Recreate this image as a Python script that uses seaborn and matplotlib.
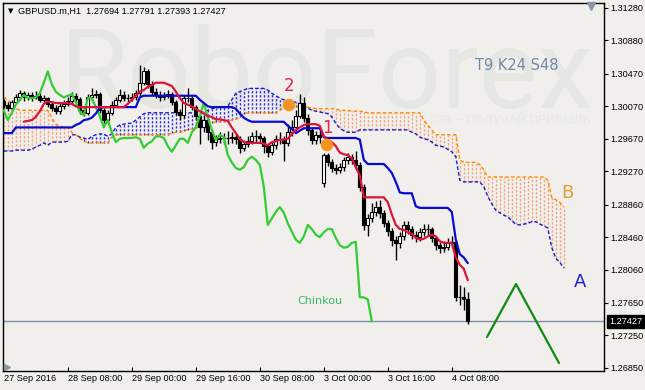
import numpy as np
import pandas as pd
import matplotlib
matplotlib.use("Agg")
import matplotlib.pyplot as plt
import seaborn as sns

# ---------------- data (GBPUSD H1) ----------------
open_ = [1.3013, 1.3009, 1.3005, 1.3012, 1.3018, 1.3023, 1.3018, 1.3021, 1.3018, 1.3020,
         1.3015, 1.3017, 1.3010, 1.3005, 1.3001, 1.3007, 1.3010, 1.3013, 1.3020, 1.3016,
         1.3002, 1.2999, 1.3018, 1.3021, 1.3022, 1.3002, 1.2990, 1.2999, 1.3009, 1.3015,
         1.3021, 1.3017, 1.3017, 1.3018, 1.3023, 1.3036, 1.3050, 1.3034, 1.3025, 1.3021,
         1.3018, 1.3020, 1.3022, 1.3012, 1.3000, 1.2996, 1.3017, 1.3017, 1.3006, 1.2995,
         1.2981, 1.2990, 1.2975, 1.2963, 1.2967, 1.2968, 1.2968, 1.2968, 1.2969, 1.2967,
         1.2956, 1.2961, 1.2964, 1.2970, 1.2970, 1.2968, 1.2958, 1.2951, 1.2959, 1.2967,
         1.2967, 1.2962, 1.2975, 1.2981, 1.2995, 1.3011, 1.2993, 1.2978, 1.2966, 1.2972,
         1.2913, 1.2947, 1.2938, 1.2931, 1.2929, 1.2932, 1.2941, 1.2945, 1.2941, 1.2935,
         1.2908, 1.2861, 1.2869, 1.2877, 1.2883, 1.2876, 1.2863, 1.2853, 1.2843, 1.2839,
         1.2847, 1.2861, 1.2856, 1.2849, 1.2846, 1.2852, 1.2856, 1.2856, 1.2845, 1.2836,
         1.2833, 1.2834, 1.2839, 1.2840, 1.2772, 1.2772, 1.27694]
high = [1.3016, 1.3012, 1.3015, 1.3022, 1.3027, 1.3026, 1.3025, 1.3024, 1.3026, 1.3023,
        1.3021, 1.3019, 1.3013, 1.3008, 1.3011, 1.3015, 1.3018, 1.3024, 1.3023, 1.3018,
        1.3006, 1.3022, 1.3030, 1.3027, 1.3025, 1.3005, 1.3003, 1.3013, 1.3019, 1.3028,
        1.3026, 1.3022, 1.3023, 1.3027, 1.3058, 1.3055, 1.3053, 1.3038, 1.3030, 1.3026,
        1.3025, 1.3027, 1.3025, 1.3015, 1.3004, 1.3021, 1.3030, 1.3020, 1.3009, 1.2998,
        1.2995, 1.2993, 1.2978, 1.2972, 1.2975, 1.2974, 1.2976, 1.2975, 1.2973, 1.2970,
        1.2966, 1.2970, 1.2975, 1.2978, 1.2974, 1.2971, 1.2962, 1.2964, 1.2972, 1.2975,
        1.2970, 1.2985, 1.2990, 1.3003, 1.3022, 1.3018, 1.2997, 1.2981, 1.2977, 1.2976,
        1.2950, 1.2950, 1.2942, 1.2936, 1.2937, 1.2945, 1.2950, 1.2948, 1.2952, 1.2938,
        1.2911, 1.2874, 1.2888, 1.2890, 1.2892, 1.2880, 1.2867, 1.2857, 1.2848, 1.2852,
        1.2866, 1.2866, 1.2860, 1.2854, 1.2857, 1.2862, 1.2862, 1.2858, 1.2848, 1.2840,
        1.2841, 1.2845, 1.2847, 1.2843, 1.2787, 1.2785, 1.27791]
low = [1.3005, 1.3001, 1.3002, 1.3010, 1.3015, 1.3014, 1.3015, 1.3014, 1.3016, 1.3012,
       1.3011, 1.3006, 1.3001, 1.2997, 1.2998, 1.3004, 1.3007, 1.3010, 1.3012, 1.2998,
       1.2995, 1.2996, 1.3014, 1.3017, 1.2999, 1.2986, 1.2987, 1.2996, 1.3006, 1.3012,
       1.3013, 1.3012, 1.3013, 1.3015, 1.3020, 1.3033, 1.3030, 1.3021, 1.3017, 1.3014,
       1.3015, 1.3017, 1.3008, 1.2996, 1.2990, 1.2993, 1.3012, 1.3002, 1.2990, 1.2960,
       1.2975, 1.2966, 1.2955, 1.2958, 1.2962, 1.2960, 1.2961, 1.2962, 1.2960, 1.2950,
       1.2952, 1.2957, 1.2960, 1.2963, 1.2962, 1.2950, 1.2945, 1.2947, 1.2955, 1.2960,
       1.2940, 1.2958, 1.2970, 1.2976, 1.2992, 1.2988, 1.2972, 1.2960, 1.2961, 1.2962,
       1.2908, 1.2933, 1.2926, 1.2924, 1.2925, 1.2928, 1.2936, 1.2936, 1.2930, 1.2903,
       1.2855, 1.2848, 1.2865, 1.2872, 1.2870, 1.2858, 1.2848, 1.2835, 1.2818, 1.2833,
       1.2843, 1.2850, 1.2844, 1.2840, 1.2841, 1.2848, 1.2849, 1.2840, 1.2830, 1.2827,
       1.2828, 1.2830, 1.2834, 1.2768, 1.2763, 1.2756, 1.27393]
close = [1.3009, 1.3005, 1.3012, 1.3018, 1.3023, 1.3018, 1.3021, 1.3018, 1.3020, 1.3015,
         1.3017, 1.3010, 1.3005, 1.3001, 1.3007, 1.3010, 1.3013, 1.3020, 1.3016, 1.3002,
         1.2999, 1.3018, 1.3021, 1.3022, 1.3002, 1.2990, 1.2999, 1.3009, 1.3015, 1.3021,
         1.3017, 1.3017, 1.3018, 1.3023, 1.3036, 1.3050, 1.3034, 1.3025, 1.3021, 1.3018,
         1.3020, 1.3022, 1.3012, 1.3000, 1.2996, 1.3017, 1.3017, 1.3006, 1.2995, 1.2981,
         1.2990, 1.2975, 1.2963, 1.2967, 1.2968, 1.2968, 1.2968, 1.2969, 1.2967, 1.2956,
         1.2961, 1.2964, 1.2970, 1.2970, 1.2968, 1.2958, 1.2951, 1.2959, 1.2967, 1.2967,
         1.2962, 1.2975, 1.2981, 1.2995, 1.3011, 1.2993, 1.2978, 1.2966, 1.2972, 1.2969,
         1.2947, 1.2938, 1.2931, 1.2929, 1.2932, 1.2941, 1.2945, 1.2941, 1.2935, 1.2908,
         1.2861, 1.2869, 1.2877, 1.2883, 1.2876, 1.2863, 1.2853, 1.2843, 1.2839, 1.2847,
         1.2861, 1.2856, 1.2849, 1.2846, 1.2852, 1.2856, 1.2856, 1.2845, 1.2836, 1.2833,
         1.2834, 1.2839, 1.2840, 1.2772, 1.2772, 1.27694, 1.27427]

# Tenkan-sen (9), starts at bar 5
tenkan_start = 5
tenkan = [1.2988, 1.2989, 1.2990, 1.2994, 1.3001,
          1.3010, 1.3013, 1.3012, 1.3011, 1.3011, 1.3011, 1.3011, 1.3010, 1.3007, 1.3006,
          1.3006, 1.3006, 1.3006, 1.3006, 1.3006, 1.3006, 1.3006, 1.3006, 1.3006, 1.3006,
          1.3006, 1.3010, 1.3015, 1.3020, 1.3025, 1.3027, 1.3031, 1.3033, 1.3036, 1.3036,
          1.3036, 1.3034, 1.3032, 1.3025, 1.3017, 1.3011, 1.3009, 1.3007, 1.3004, 1.3001,
          1.2998, 1.2995, 1.2994, 1.2991, 1.2991, 1.2990, 1.2989, 1.2981, 1.2974, 1.2967,
          1.2963, 1.2962, 1.2962, 1.2962, 1.2962, 1.2961, 1.2959, 1.2963, 1.2964, 1.2966,
          1.2966, 1.2967, 1.2973, 1.2978, 1.2981, 1.2984, 1.2985, 1.2985, 1.2985, 1.2983,
          1.2970, 1.2966, 1.2963, 1.2958, 1.2950, 1.2948, 1.2947, 1.2943, 1.2932, 1.2922,
          1.2895, 1.2895, 1.2895, 1.2895, 1.2895, 1.2895, 1.2889, 1.2874, 1.2861, 1.2856,
          1.2855, 1.2852, 1.2850, 1.2845, 1.2843, 1.2844, 1.2847, 1.2849, 1.2847, 1.2841,
          1.2839, 1.2839, 1.2839, 1.2821, 1.2812, 1.2807, 1.2793]
# Kijun-sen (24)
kijun = [1.2974, 1.2974, 1.2974, 1.2981, 1.2981, 1.2981, 1.2981, 1.2981, 1.2981, 1.2981,
         1.2981, 1.2981, 1.2981, 1.2981, 1.2981, 1.2981, 1.2981, 1.2981, 1.2984, 1.2986,
         1.2990, 1.2991, 1.2993, 1.2998, 1.3005, 1.3006, 1.3006, 1.3006, 1.3006, 1.3006,
         1.3006, 1.3006, 1.3006, 1.3006, 1.3018, 1.3020, 1.3020, 1.3020, 1.3020, 1.3020,
         1.3020, 1.3020, 1.3020, 1.3020, 1.3020, 1.3020, 1.3020, 1.3020, 1.3020, 1.3015,
         1.3011, 1.3007, 1.3006, 1.3006, 1.3006, 1.3006, 1.3006, 1.3006, 1.3004, 1.2998,
         1.2993, 1.2990, 1.2988, 1.2988, 1.2988, 1.2988, 1.2988, 1.2988, 1.2988, 1.2988,
         1.2988, 1.2983, 1.2979, 1.2974, 1.2977, 1.2980, 1.2980, 1.2980, 1.2980, 1.2980,
         1.2969, 1.2968, 1.2968, 1.2968, 1.2968, 1.2968, 1.2968, 1.2968, 1.2968, 1.2966,
         1.2941, 1.2936, 1.2936, 1.2936, 1.2936, 1.2936, 1.2931, 1.2925, 1.2914, 1.2901,
         1.2900, 1.2900, 1.2900, 1.2884, 1.2882, 1.2882, 1.2882, 1.2882, 1.2882, 1.2882,
         1.2882, 1.2882, 1.2877, 1.2843, 1.2825, 1.2821, 1.2814]
# Senkou Span A / B (shifted 24 bars forward)
senkou_a = [1.2952, 1.2952, 1.2952, 1.2953, 1.2953, 1.2953, 1.2953, 1.2954, 1.2957, 1.2959,
            1.2962, 1.2959, 1.2963, 1.2963, 1.2963, 1.2963, 1.2964, 1.2972, 1.2972, 1.2969,
            1.2968, 1.2966, 1.2970, 1.2972, 1.2973, 1.2973, 1.2970, 1.2973, 1.2981, 1.2984,
            1.2985, 1.2986, 1.2986, 1.2990, 1.2994, 1.2998, 1.2999, 1.2999, 1.2999, 1.2999,
            1.2999, 1.2999, 1.2999, 1.2999, 1.2999, 1.2999, 1.2999, 1.2999, 1.2999, 1.2999,
            1.3000, 1.3002, 1.3004, 1.3005, 1.3006, 1.3006, 1.3007, 1.3015, 1.3023, 1.3025,
            1.3027, 1.3029, 1.3029, 1.3029, 1.3029, 1.3029, 1.3027, 1.3023, 1.3020, 1.3017,
            1.3015, 1.3015, 1.3013, 1.3012, 1.3010, 1.3007, 1.3005, 1.3002, 1.3001, 1.3000,
            1.2999, 1.2998, 1.2994, 1.2986, 1.2980, 1.2977, 1.2975, 1.2975, 1.2975, 1.2978,
            1.2978, 1.2978, 1.2978, 1.2978, 1.2978, 1.2978, 1.2978, 1.2978, 1.2978, 1.2978,
            1.2978, 1.2978, 1.2975, 1.2973, 1.2969, 1.2967, 1.2966, 1.2963, 1.2959, 1.2958,
            1.2957, 1.2954, 1.2951, 1.2945, 1.2916, 1.2914, 1.2914, 1.2914, 1.2914, 1.2914,
            1.2908, 1.2896, 1.2887, 1.2879, 1.2876, 1.2873, 1.2871, 1.2866, 1.2862, 1.2861,
            1.2862, 1.2863, 1.2865, 1.2865, 1.2862, 1.2860, 1.2857, 1.2833, 1.2820, 1.2815,
            1.2808]
senkou_b = [1.3018, 1.3015, 1.3010, 1.3005, 1.3002, 1.3002, 1.3002, 1.3002, 1.3002, 1.3002,
            1.3002, 1.3002, 1.2993, 1.2985, 1.2983, 1.2981, 1.2981, 1.2975, 1.2972, 1.2968,
            1.2964, 1.2962, 1.2962, 1.2962, 1.2962, 1.2962, 1.2962, 1.2969, 1.2972, 1.2972,
            1.2972, 1.2972, 1.2972, 1.2972, 1.2972, 1.2972, 1.2972, 1.2972, 1.2972, 1.2972,
            1.2972, 1.2972, 1.2974, 1.2975, 1.2975, 1.2977, 1.2978, 1.2979, 1.2980, 1.2983,
            1.2984, 1.2985, 1.2986, 1.2988, 1.2988, 1.2988, 1.2989, 1.2990, 1.2991, 1.2994,
            1.2998, 1.2999, 1.2999, 1.2999, 1.2999, 1.2999, 1.2999, 1.2999, 1.2999, 1.3002,
            1.3006, 1.3006, 1.3006, 1.3006, 1.3006, 1.3006, 1.3006, 1.3005, 1.3004, 1.3004,
            1.3004, 1.3004, 1.3004, 1.3004, 1.3002, 1.3002, 1.3002, 1.3001, 1.3001, 1.3001,
            1.3000, 1.2999, 1.2999, 1.2999, 1.2999, 1.2999, 1.2999, 1.2999, 1.2999, 1.2999,
            1.2999, 1.2999, 1.2999, 1.2999, 1.2999, 1.2990, 1.2984, 1.2978, 1.2972, 1.2972,
            1.2972, 1.2972, 1.2972, 1.2972, 1.2941, 1.2938, 1.2938, 1.2938, 1.2938, 1.2935,
            1.2929, 1.2920, 1.2920, 1.2920, 1.2920, 1.2920, 1.2920, 1.2920, 1.2920, 1.2920,
            1.2920, 1.2920, 1.2920, 1.2920, 1.2920, 1.2920, 1.2916, 1.2895, 1.2892, 1.2889,
            1.2883]
chinkou_shift = 24

time_tick_bars = [0, 16, 32, 48, 64, 80, 96, 112]
time_tick_labels = ["27 Sep 2016", "28 Sep 08:00", "29 Sep 00:00", "29 Sep 16:00",
                    "30 Sep 08:00", "3 Oct 00:00", "3 Oct 16:00", "4 Oct 08:00"]
price_ticks = [1.31280, 1.30880, 1.30470, 1.30070, 1.29670, 1.29270,
               1.28860, 1.28460, 1.28060, 1.27650, 1.27250, 1.26850]
last_price = 1.27427

# analyst drawings
forecast_bar = [120.8, 128.05, 138.8]
forecast_price = [1.27231, 1.27883, 1.26911]
signal_bar = [71.3, 80.8]
signal_price = [1.30086, 1.29594]
signal_label = ["2", "1"]
signal_label_price = [1.30315, 1.29800]

# ---------------- style ----------------
sns.set_theme(style="white")
plt.rcParams['font.family'] = ['Liberation Sans', 'DejaVu Sans']
BG = "#f0efeb"
FS = 6.6

fig = plt.figure(figsize=(6.45, 3.9), dpi=100)
fig.patch.set_facecolor(BG)
W, H = 645, 390
ax = fig.add_axes([3 / W, 1 - 371 / H, (604 - 3) / W, (371 - 3) / H])
ax.set_facecolor(BG)
ax.set_xlim(-0.2, 150.05)
ax.set_ylim(1.26813, 1.31341)

# watermark
ax.text(60 / W, 1 - 108 / H, "RoboForex", transform=fig.transFigure, fontsize=80,
        family="Roboto", color="#e6e6e3", ha="left", va="baseline", zorder=0.1)
ax.text(590 / W, 1 - 120 / H, "ТОВ – ПОЛУЧАЙ ПРИБЫЛЬ", transform=fig.transFigure,
        fontsize=9, family="Roboto", color="#e8e8e5", ha="right", va="center", zorder=0.1)

# cloud hatch
n_cloud = len(senkou_a)
cb = np.arange(n_cloud)
sa = np.array(senkou_a)
sb = np.array(senkou_b)
hatch_colors = np.where(sa >= sb, "#2a2ad8", "#f4a47c")
ax.vlines(cb, np.minimum(sa, sb), np.maximum(sa, sb), colors=list(hatch_colors),
          linewidth=1.0, linestyles=(0, (1.6, 1.3)), zorder=1)

cloud_df = pd.DataFrame({"bar": cb, "A": sa, "B": sb})
sns.lineplot(data=cloud_df, x="bar", y="A", ax=ax, color="#1a1ad0", linewidth=1.0,
             estimator=None, sort=False, zorder=2)
ax.lines[-1].set_linestyle((0, (2.6, 1.6)))
sns.lineplot(data=cloud_df, x="bar", y="B", ax=ax, color="#ff8c00", linewidth=1.0,
             estimator=None, sort=False, zorder=2)
ax.lines[-1].set_linestyle((0, (2.6, 1.6)))

# current price line
ax.axhline(last_price, color="#7b8ea3", linewidth=1.0, zorder=1.5)

# candles
o = np.array(open_); c = np.array(close); h = np.array(high); l = np.array(low)
idx = np.arange(len(c))
ax.vlines(idx, l, h, colors="black", linewidth=1.0, zorder=3)
bull = c >= o
body_bottom = np.minimum(o, c)
body_h = np.maximum(np.abs(c - o), 0.00003)
ax.bar(idx[bull], body_h[bull], bottom=body_bottom[bull], width=0.72,
       facecolor="white", edgecolor="black", linewidth=0.8, zorder=3.5)
ax.bar(idx[~bull], body_h[~bull], bottom=body_bottom[~bull], width=0.72,
       facecolor="black", edgecolor="black", linewidth=0.8, zorder=3.5)

# indicator lines
ind_df = pd.DataFrame({"bar": idx, "kijun": kijun})
ten_df = pd.DataFrame({"bar": np.arange(tenkan_start, tenkan_start + len(tenkan)), "tenkan": tenkan})
chk_df = pd.DataFrame({"bar": idx[:len(c) - chinkou_shift], "chinkou": c[chinkou_shift:]})
sns.lineplot(data=chk_df, x="bar", y="chinkou", ax=ax, color="#33cc33", linewidth=1.6,
             estimator=None, sort=False, zorder=4)
sns.lineplot(data=ind_df, x="bar", y="kijun", ax=ax, color="#0a0ad2", linewidth=1.6,
             estimator=None, sort=False, zorder=4.2)
sns.lineplot(data=ten_df, x="bar", y="tenkan", ax=ax, color="#dc143c", linewidth=1.6,
             estimator=None, sort=False, zorder=4.4)

# forecast zigzag
fc_df = pd.DataFrame({"bar": forecast_bar, "price": forecast_price})
sns.lineplot(data=fc_df, x="bar", y="price", ax=ax, color="#138a13", linewidth=1.6,
             estimator=None, sort=False, zorder=5)

# signal markers
sns.scatterplot(x=signal_bar, y=signal_price, ax=ax, color="#f7941d", s=80,
                edgecolor="none", zorder=6)
for b, p, t in zip(signal_bar, signal_label_price, signal_label):
    ax.text(b, p, t, color="#e3204f", fontsize=12, family="DejaVu Sans",
            ha="center", va="center", zorder=6)

ax.text(117.8, 1.30566, "T9 K24 S48", color="#7189a9", fontsize=10.5, family="DejaVu Sans",
        ha="left", va="center", zorder=6)
ax.text(73.3, 1.27674, "Chinkou", color="#3cb86a", fontsize=8, family="DejaVu Sans",
        ha="left", va="center", zorder=6)
ax.text(140.8, 1.29003, "B", color="#dca332", fontsize=13, family="DejaVu Sans",
        ha="center", va="center", zorder=6)
ax.text(144.05, 1.27908, "A", color="#1c1cd0", fontsize=13, family="DejaVu Sans",
        ha="center", va="center", zorder=6)

# axes / ticks
for s in ax.spines.values():
    s.set_color("black")
    s.set_linewidth(1.0)
ax.yaxis.tick_right()
ax.set_yticks(price_ticks)
ax.set_yticklabels([f"{v:.5f}" for v in price_ticks])
ax.tick_params(axis="y", direction="out", length=3, width=0.8, colors="black",
               labelsize=FS, pad=1.5, left=False, right=True)
ax.set_xticks(time_tick_bars)
ax.set_xticklabels(time_tick_labels, ha="left")
ax.tick_params(axis="x", direction="in", length=3, width=0.8, colors="black",
               labelsize=FS, pad=2, bottom=True)
ax.set_xlabel("")
ax.set_ylabel("")
ax.grid(False)

ax.text(1.0 + 5 / 601, last_price, f"{last_price:.5f}", transform=ax.get_yaxis_transform(),
        color="white", fontsize=FS, ha="left", va="center",
        bbox=dict(boxstyle="square,pad=0.22", fc="black", ec="black"), clip_on=False, zorder=7)

# header
fig.text(8 / W, 1 - 11 / H, "▼", fontsize=5, color="black", ha="left", va="center",
         family="DejaVu Sans")
fig.text(18 / W, 1 - 11 / H, "GBPUSD.m,H1  1.27694 1.27791 1.27393 1.27427",
         fontsize=6.6, color="black", ha="left", va="center")
# chart-shift markers
ax.plot([0.978], [0.993], marker="v", markersize=6, color="#8a96a6", transform=ax.transAxes,
        clip_on=False, zorder=8)
ax.plot([0.006], [0.012], marker=">", markersize=4, color="#8a96a6", transform=ax.transAxes,
        clip_on=False, zorder=8)

fig.savefig("out.png", dpi=100, facecolor=BG)
